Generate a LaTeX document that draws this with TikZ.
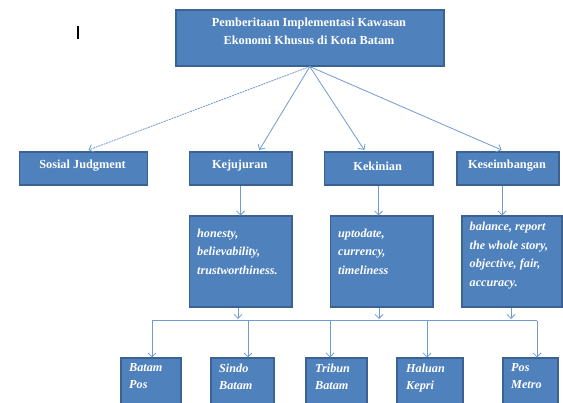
\documentclass[tikz,border=0pt]{standalone}
\usepackage{fontspec}
\setmainfont{Liberation Serif}
\usetikzlibrary{arrows.meta,calc}
\definecolor{boxfill}{HTML}{4F81BD}
\definecolor{boxedge}{HTML}{3A6293}
\definecolor{conn}{HTML}{6F9AD2}
\tikzset{
  bx/.style={draw=boxedge, fill=boxfill, line width=1.6pt, inner sep=0pt, text=white},
  headtxt/.style={text=white, font=\fontsize{12.3}{15}\selectfont\bfseries},
  ittxt/.style={text=white, font=\fontsize{12.2}{18.5}\selectfont\bfseries\itshape, align=left, anchor=north west, inner sep=0pt},
  bottxt/.style={text=white, font=\fontsize{12.2}{17.3}\selectfont\bfseries\itshape, align=left, anchor=north west, inner sep=0pt},
  ln/.style={draw=conn, line width=0.8pt},
  arr/.style={ln, -{Straight Barb[length=4pt,width=8pt,line width=0.8pt]}},
}
\begin{document}
\begin{tikzpicture}[x=1pt,y=-1pt]
\useasboundingbox (0,0) rectangle (563,403);
\clip (0,0) rectangle (563,403);
% cursor mark
\draw[black, line width=1.1pt] (78,26) -- (78,39);
% top box
\node[bx, minimum width=268pt, minimum height=56pt, anchor=north west] (top) at (175,9) {};
\node[text=white, font=\fontsize{12.3}{18}\selectfont\bfseries, align=center, anchor=north] (toptext) at (309,14.5) {Pemberitaan Implementasi Kawasan\\Ekonomi Khusus di Kota Batam};
% row 2
\node[bx, minimum width=128pt, minimum height=33pt, anchor=north west] (sj) at (18.5,151.5) {};
\node[headtxt] (sjt) at (82.5,166) {Sosial Judgment};
\node[bx, minimum width=102.5pt, minimum height=33pt, anchor=north west] (kj) at (188.5,151.5) {};
\node[headtxt] (kjt) at (239.7,166) {Kejujuran};
\node[bx, minimum width=108.5pt, minimum height=33pt, anchor=north west] (kk) at (323.5,151.5) {};
\node[headtxt] (kkt) at (377.7,166) {Kekinian};
\node[bx, minimum width=102pt, minimum height=33pt, anchor=north west] (ks) at (456,151.5) {};
\node[headtxt] (kst) at (507,166) {Keseimbangan};
% row 3
\node[bx, minimum width=102.5pt, minimum height=91pt, anchor=north west] (d1) at (188.5,215.5) {};
\node[ittxt] (d1t) at (197,228.5) {honesty,\\believability,\\trustworthiness.};
\node[bx, minimum width=102.5pt, minimum height=91pt, anchor=north west] (d2) at (329.5,215.5) {};
\node[ittxt] (d2t) at (338,228.5) {uptodate,\\currency,\\timeliness};
\node[bx, minimum width=100pt, minimum height=91pt, anchor=north west] (d3) at (461,215.5) {};
\node[ittxt] (d3t) at (469.5,222) {balance, report\\the whole story,\\objective, fair,\\accuracy.};
% bottom row
\node[bx, minimum width=60pt, minimum height=60pt, anchor=north west] (b1) at (120,357.5) {};
\node[bottxt] (b1t) at (129,363.5) {Batam\\Pos};
\node[bx, minimum width=63pt, minimum height=60pt, anchor=north west] (b2) at (210,357.5) {};
\node[bottxt] (b2t) at (219,363.5) {Sindo\\Batam};
\node[bx, minimum width=61pt, minimum height=60pt, anchor=north west] (b3) at (305,357.5) {};
\node[bottxt] (b3t) at (315,363.5) {Tribun\\Batam};
\node[bx, minimum width=66pt, minimum height=60pt, anchor=north west] (b4) at (396,357.5) {};
\node[bottxt] (b4t) at (406,363.5) {Haluan\\Kepri};
\node[bx, minimum width=55pt, minimum height=60pt, anchor=north west] (b5) at (502,357.5) {};
\node[bottxt] (b5t) at (511,363.5) {Pos\\Metro};
% fan connectors
\coordinate (fan) at (top.south);
\coordinate (sjin) at ($(sj.north west)!0.54!(sj.north east)+(0,-1.5)$);
\coordinate (kjin) at ($(kj.north west)!0.68!(kj.north east)+(0,-1.5)$);
\coordinate (kkin) at ($(kk.north west)!0.37!(kk.north east)+(0,-1.5)$);
\coordinate (ksin) at ($(ks.north west)!0.44!(ks.north east)+(0,-1.5)$);
\draw[arr, dash pattern=on 2pt off 0.8pt] (fan) -- (sjin);
\draw[arr] (fan) -- (kjin);
\draw[arr] (fan) -- (kkin);
\draw[arr] (fan) -- (ksin);
% row2 -> row3
\coordinate (ksout) at ($(ks.south west)+(46,0)$);
\draw[arr] (kj.south) -- (kj.south |- d1.north);
\draw[arr] (kk.south) -- (kk.south |- d2.north);
\draw[arr] (ksout) -- (ksout |- d3.north);
% merge line
\coordinate (hl) at (152,320.7);
\coordinate (hr) at (537,320.7);
\coordinate (d1out) at ($(d1.south west)+(49.5,0)$);
\coordinate (d2out) at ($(d2.south west)+(49.5,0)$);
\coordinate (d3out) at ($(d3.south west)+(50,0)$);
\draw[ln] (hl) -- (hr);
\draw[arr] (d1out) -- (d1out |- 0,319);
\draw[arr] (d2out) -- (d2out |- 0,319);
\draw[arr] (d3out) -- (d3out |- 0,319);
% down to bottom boxes
\coordinate (h2) at (248,320.7);
\coordinate (h3) at (330,320.7);
\coordinate (h4) at (427,320.7);
\draw[arr] (hl) -- (hl |- b1.north);
\draw[arr] (h2) -- (h2 |- b2.north);
\draw[arr] (h3) -- (h3 |- b3.north);
\draw[arr] (h4) -- (h4 |- b4.north);
\draw[arr] (hr) -- (hr |- b5.north);
\end{tikzpicture}
\end{document}
